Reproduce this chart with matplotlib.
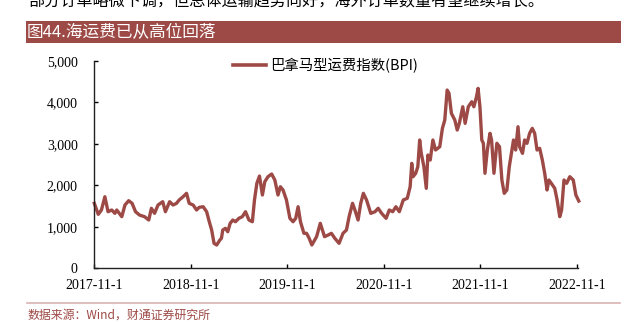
import numpy as np
import pandas as pd
import matplotlib
matplotlib.use("Agg")
import matplotlib.pyplot as plt
import matplotlib.dates as mdates
from matplotlib.ticker import FuncFormatter
from matplotlib.patches import Rectangle
from matplotlib.lines import Line2D

# 巴拿马型运费指数(BPI)，从图上读取的近似值
dates = [
    "2017-11-01", "2017-11-16", "2017-11-28", "2017-12-11", "2017-12-23", "2018-01-06",
    "2018-01-18", "2018-01-25", "2018-02-13", "2018-02-25", "2018-03-11", "2018-03-24",
    "2018-04-06", "2018-04-21", "2018-05-10", "2018-05-26", "2018-06-05", "2018-06-17",
    "2018-06-30", "2018-07-18", "2018-07-28", "2018-08-13", "2018-08-26", "2018-09-08",
    "2018-09-18", "2018-10-03", "2018-10-16", "2018-10-26", "2018-11-10", "2018-11-23",
    "2018-12-03", "2018-12-18", "2018-12-31", "2019-01-10", "2019-01-19", "2019-01-28",
    "2019-02-07", "2019-02-19", "2019-02-25", "2019-03-02", "2019-03-12", "2019-03-21",
    "2019-03-30", "2019-04-09", "2019-04-19", "2019-05-02", "2019-05-15", "2019-05-27",
    "2019-06-09", "2019-06-22", "2019-06-30", "2019-07-09", "2019-07-19", "2019-07-30",
    "2019-08-08", "2019-08-20", "2019-09-03", "2019-09-15", "2019-09-27", "2019-10-06",
    "2019-10-16", "2019-10-29", "2019-11-11", "2019-11-23", "2019-12-03", "2019-12-12",
    "2019-12-21", "2020-01-03", "2020-01-13", "2020-01-23", "2020-02-02", "2020-02-20",
    "2020-03-05", "2020-03-21", "2020-04-04", "2020-04-16", "2020-04-29", "2020-05-15",
    "2020-05-30", "2020-06-12", "2020-06-22", "2020-07-05", "2020-07-14", "2020-07-26",
    "2020-08-05", "2020-08-15", "2020-08-27", "2020-09-12", "2020-09-28", "2020-10-10",
    "2020-10-23", "2020-11-09", "2020-11-21", "2020-12-04", "2020-12-16", "2020-12-29",
    "2021-01-13", "2021-01-28", "2021-02-08", "2021-02-14", "2021-02-19", "2021-03-01",
    "2021-03-09", "2021-03-16", "2021-03-22", "2021-04-01", "2021-04-10", "2021-04-16",
    "2021-04-25", "2021-05-05", "2021-05-15", "2021-05-31", "2021-06-10", "2021-06-19",
    "2021-06-28", "2021-07-05", "2021-07-14", "2021-07-27", "2021-08-05", "2021-08-13",
    "2021-08-26", "2021-09-04", "2021-09-16", "2021-09-29", "2021-10-07", "2021-10-17",
    "2021-10-23", "2021-10-30", "2021-11-06", "2021-11-12", "2021-11-18", "2021-11-27",
    "2021-12-07", "2021-12-13", "2021-12-22", "2022-01-02", "2022-01-12", "2022-01-21",
    "2022-01-30", "2022-02-09", "2022-02-18", "2022-02-26", "2022-03-06", "2022-03-14",
    "2022-03-23", "2022-03-29", "2022-04-09", "2022-04-17", "2022-04-26", "2022-05-06",
    "2022-05-16", "2022-05-25", "2022-06-03", "2022-06-13", "2022-06-23", "2022-07-02",
    "2022-07-11", "2022-07-18", "2022-07-27", "2022-08-09", "2022-08-18", "2022-08-28",
    "2022-09-04", "2022-09-13", "2022-09-23", "2022-10-05", "2022-10-18", "2022-10-28",
    "2022-11-08",
]
bpi = [
    1565, 1300, 1404, 1724, 1363, 1404,
    1324, 1404, 1243, 1524, 1628, 1565,
    1363, 1283, 1243, 1163, 1445, 1324,
    1524, 1604, 1363, 1604, 1524, 1565,
    1645, 1724, 1806, 1565, 1524, 1404,
    1469, 1483, 1363, 1122, 922, 602,
    561, 681, 722, 922, 963, 881,
    1084, 1163, 1122, 1204, 1243, 1363,
    1163, 1122, 1645, 2047, 2222, 1765,
    2085, 2206, 2271, 2126, 1765, 1965,
    1886, 1645, 1204, 1122, 1204, 1483,
    1122, 843, 843, 722, 561, 762,
    1084, 762, 802, 843, 722, 602,
    843, 922, 1243, 1565, 1404, 1163,
    1565, 1806, 1645, 1324, 1363, 1445,
    1324, 1204, 1404, 1363, 1483, 1363,
    1645, 1686, 1965, 2528, 2206, 2288,
    2447, 3090, 2769, 2447, 1926, 2728,
    2608, 3090, 2849, 2928, 3371, 3571,
    4293, 4214, 3732, 3571, 3330, 3491,
    3891, 3491, 3891, 4012, 3891, 4132,
    4334, 3891, 3090, 3010, 2288, 2849,
    3251, 3090, 2288, 3010, 2928, 2126,
    1806, 1886, 2447, 2769, 3090, 2849,
    3410, 2928, 2769, 3090, 3010, 3251,
    3371, 3251, 2849, 2889, 2608, 2288,
    1886, 2126, 2047, 1926, 1645, 1243,
    1404, 2126, 2047, 2206, 2126, 1765,
    1620,
]
tick_dates = ["2017-11-01", "2018-11-01", "2019-11-01", "2020-11-01", "2021-11-01", "2022-11-01"]
tick_labels = ["2017-11-1", "2018-11-1", "2019-11-1", "2020-11-1", "2021-11-1", "2022-11-1"]
yticks = [0, 1000, 2000, 3000, 4000, 5000]

intro_text = "部分订单略微下调，但总体运输趋势向好，海外订单数量有望继续增长。"
title_text = "图44.海运费已从高位回落"
legend_text = "巴拿马型运费指数(BPI)"
source_text = "数据来源：Wind，财通证券研究所"

red = "#9d4a46"
cjk = ["Noto Sans CJK SC", "DejaVu Sans"]
serif = "Liberation Serif"

W, H = 630, 322
fig = plt.figure(figsize=(W / 100, H / 100), dpi=100)

# 顶部被截断的正文（原图即被裁切）
fig.text(28 / W, 1 - 1 / H, intro_text, family=cjk, fontsize=11.6, color="black",
         ha="left", va="center")

# 标题栏
fig.patches.append(Rectangle((26 / W, 1 - 43 / H), (621 - 26) / W, 22 / H,
                             transform=fig.transFigure, facecolor=red, edgecolor="none"))
fig.text(27 / W, 1 - 32.5 / H, title_text, family=cjk, fontsize=12, color="white",
         ha="left", va="center")

ax = fig.add_axes([94.3 / W, 1 - 268.3 / H, (578 - 94.3) / W, (268.3 - 60.7) / H])
x = pd.to_datetime(dates)
ax.plot(x, bpi, color=red, lw=2.4, solid_joinstyle="round", clip_on=False)

ax.set_ylim(0, 5000)
ax.set_xlim(pd.Timestamp("2017-11-01"), pd.Timestamp("2022-11-05"))
ax.set_yticks(yticks)
ax.yaxis.set_major_formatter(FuncFormatter(lambda v, p: "{:,.0f}".format(v)))
ax.set_xticks(pd.to_datetime(tick_dates))
ax.set_xticklabels(tick_labels)
for lab in ax.get_xticklabels() + ax.get_yticklabels():
    lab.set_family(serif)
    lab.set_fontsize(10)
ax.tick_params(axis="y", direction="in", length=3, width=1, pad=12, colors="black")
ax.tick_params(axis="x", direction="in", length=3, width=1, pad=8, colors="black")
for s in ["top", "right"]:
    ax.spines[s].set_visible(False)
for s in ["left", "bottom"]:
    ax.spines[s].set_linewidth(1.0)
    ax.spines[s].set_color("#222222")

handle = Line2D([], [], color=red, lw=2.6)
fig.legend([handle], [legend_text], loc="center left",
           bbox_to_anchor=(233 / W, 1 - 66 / H), bbox_transform=fig.transFigure,
           frameon=False, borderpad=0, borderaxespad=0, handlelength=2.3,
           handletextpad=0.25, prop={"family": cjk, "size": 10.4})

# 底部分隔线与数据来源
fig.add_artist(Line2D([27 / W, 620 / W], [1 - 303 / H, 1 - 303 / H],
                      transform=fig.transFigure, color="#d9b3b1", lw=1.2))
fig.text(27 / W, 1 - 315 / H, source_text, family=cjk, fontsize=8.6, color=red,
         ha="left", va="center")

fig.savefig("out.png", dpi=100)
